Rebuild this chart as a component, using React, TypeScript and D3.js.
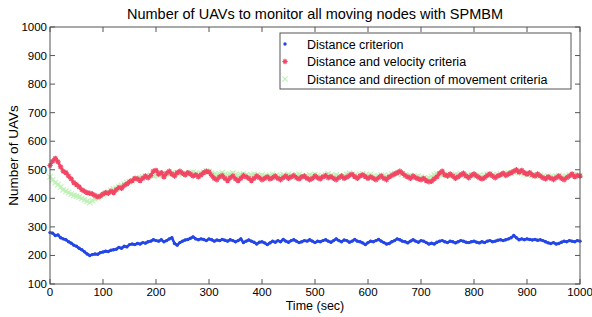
import React from "react";
import * as d3 from "d3";

// time axis: one sample every 5 s
const times = d3.range(0, 1001, 5);

const distanceOnly = [
  280, 278, 270, 272, 262, 258, 255, 248, 243, 236, 232, 225, 220, 213, 205, 200, 203, 205, 204, 210,
  212, 215, 214, 218, 220, 222, 228, 225, 232, 230, 238, 240, 238, 242, 240, 245, 243, 248, 250, 255,
  252, 250, 255, 248, 252, 258, 262, 242, 236, 245, 250, 254, 256, 260, 265, 258, 255, 258, 256, 252,
  258, 255, 250, 254, 252, 256, 253, 250, 255, 252, 248, 252, 258, 245, 250, 254, 250, 246, 240, 246,
  248, 244, 238, 244, 250, 246, 252, 248, 256, 250, 246, 252, 255, 250, 245, 248, 252, 250, 255, 250,
  245, 250, 248, 252, 255, 250, 246, 252, 258, 252, 248, 254, 252, 246, 250, 256, 250, 248, 244, 238,
  245, 250, 248, 252, 256, 250, 245, 240, 242, 248, 252, 258, 255, 250, 248, 244, 250, 255, 250, 246,
  252, 250, 245, 240, 243, 240, 246, 250, 252, 248, 245, 250, 248, 244, 248, 252, 250, 246, 245, 248,
  250, 246, 244, 248, 245, 250, 252, 248, 250, 253, 255, 252, 255, 258, 262, 270, 262, 255, 258, 255,
  258, 256, 254, 256, 253, 255, 252, 248, 244, 242, 245, 240, 242, 246, 250, 248, 252, 250, 248, 252,
  250,
];

const distanceVelocity = [
  515, 530, 540, 528, 510, 495, 490, 478, 468, 455, 448, 440, 430, 425, 420, 418, 415, 410, 405, 408,
  415, 420, 418, 425, 420, 430, 438, 435, 445, 450, 458, 462, 470, 468, 462, 470, 478, 472, 480, 495,
  498, 485, 490, 475, 488, 495, 485, 478, 490, 495, 488, 482, 490, 485, 478, 482, 475, 482, 490, 495,
  492, 480, 470, 465, 475, 480, 470, 462, 472, 478, 468, 462, 470, 480, 475, 470, 462, 470, 478, 472,
  465, 470, 475, 468, 472, 478, 470, 465, 472, 478, 470, 475, 480, 472, 468, 475, 478, 470, 465, 470,
  478, 472, 468, 475, 480, 472, 476, 470, 465, 472, 478, 470, 474, 480, 484, 476, 470, 478, 482, 476,
  470, 475, 470, 465, 472, 478, 470, 465, 475, 480, 485, 490, 495, 488, 480, 475, 470, 478, 472, 468,
  465, 470, 462, 458, 460, 468, 475, 488, 495, 482, 478, 485, 478, 470, 475, 482, 488, 478, 472, 480,
  485, 478, 472, 468, 472, 480, 485, 478, 472, 478, 482, 488, 480, 485, 490, 495, 500, 492, 498, 490,
  485, 490, 482, 478, 485, 478, 472, 468, 475, 470, 466, 472, 478, 470, 465, 472, 478, 485, 476, 480,
  478,
];

const distanceDirection = [
  475, 465, 455, 448, 440, 430, 425, 420, 415, 410, 408, 405, 400, 395, 390, 385, 392, 398, 402, 408,
  412, 418, 422, 428, 432, 436, 440, 445, 450, 455, 458, 462, 466, 470, 472, 475, 478, 476, 480, 478,
  482, 480, 484, 482, 486, 484, 488, 485, 490, 487, 484, 488, 486, 490, 492, 488, 485, 488, 492, 496,
  494, 488, 485, 482, 486, 490, 484, 480, 485, 488, 484, 480, 483, 486, 482, 478, 482, 484, 480, 478,
  482, 478, 476, 480, 484, 478, 475, 480, 482, 478, 484, 480, 476, 480, 484, 478, 475, 478, 482, 480,
  484, 480, 476, 478, 482, 486, 480, 478, 482, 478, 475, 480, 484, 488, 484, 480, 478, 484, 486, 482,
  480, 484, 478, 474, 478, 482, 480, 476, 480, 485, 488, 484, 490, 486, 482, 478, 480, 476, 474, 478,
  474, 470, 468, 472, 476, 482, 486, 484, 480, 484, 482, 478, 480, 484, 482, 486, 482, 478, 480, 484,
  482, 478, 480, 476, 480, 484, 486, 482, 478, 482, 486, 484, 486, 490, 488, 492, 494, 490, 488, 486,
  482, 486, 482, 478, 482, 480, 476, 474, 478, 476, 474, 478, 480, 476, 474, 478, 482, 484, 480, 482,
  480,
];

const xTicks = [0, 100, 200, 300, 400, 500, 600, 700, 800, 900, 1000];
const yTicks = [100, 200, 300, 400, 500, 600, 700, 800, 900, 1000];
const legendLabels = [
  "Distance criterion",
  "Distance and velocity criteria",
  "Distance and direction of movement criteria",
];

const W = 592;
const H = 317;
const margin = { left: 50, right: 12, top: 27, bottom: 33 };
const font = "Arial, 'Liberation Sans', sans-serif";
const blue = "#2446e6";
const red = "#f24664";
const green = "#c0f2b8";

function Marker({ kind, x, y, color }: { kind: string; x: number; y: number; color: string }) {
  if (kind === "dot") return <circle cx={x} cy={y} r={1.7} fill={color} />;
  const s = 2.7;
  if (kind === "star")
    return (
      <path
        d={`M${x - s},${y}H${x + s}M${x},${y - s}V${y + s}M${x - s * 0.7},${y - s * 0.7}L${x + s * 0.7},${y + s * 0.7}M${x - s * 0.7},${y + s * 0.7}L${x + s * 0.7},${y - s * 0.7}`}
        stroke={color}
        strokeWidth={1.2}
      />
    );
  return (
    <path
      d={`M${x - s},${y - s}L${x + s},${y + s}M${x - s},${y + s}L${x + s},${y - s}`}
      stroke={color}
      strokeWidth={1.2}
    />
  );
}

export default function App() {
  const x = d3.scaleLinear().domain([0, 1000]).range([margin.left, W - margin.right]);
  const y = d3.scaleLinear().domain([100, 1000]).range([H - margin.bottom, margin.top]);
  const line = d3
    .line<number>()
    .x((_, i) => x(times[i]))
    .y((d) => y(d));

  const series = [
    { data: distanceOnly, color: blue, kind: "dot", width: 2.6 },
    { data: distanceVelocity, color: red, kind: "star", width: 2.6 },
    { data: distanceDirection, color: green, kind: "cross", width: 2.8 },
  ];
  // red is drawn over the pale green band
  const drawOrder = [0, 2, 1];

  const [x0, x1] = x.range();
  const [y0, y1] = y.range();
  const axisColor = "#555";

  return (
    <svg
      width={W}
      height={H}
      style={{ position: "absolute", left: 0, top: 0, background: "#fff" }}
      fontFamily={font}
    >
      <rect x={0} y={0} width={W} height={H} fill="#fff" />
      <text x={(x0 + x1) / 2} y={19} textAnchor="middle" fontSize={14.5} fill="#000">
        Number of UAVs to monitor all moving nodes with SPMBM
      </text>

      {/* data */}
      {drawOrder.map((si) => {
        const s = series[si];
        return (
          <g key={si}>
            <path d={line(s.data) || undefined} fill="none" stroke={s.color} strokeWidth={s.width} />
            {s.data.map((v, i) => (
              <Marker key={i} kind={s.kind} x={x(times[i])} y={y(v)} color={s.color} />
            ))}
          </g>
        );
      })}

      {/* box and ticks */}
      <rect x={x0} y={y1} width={x1 - x0} height={y0 - y1} fill="none" stroke={axisColor} strokeWidth={1} />
      {xTicks.map((t) => (
        <g key={`x${t}`}>
          <line x1={x(t)} x2={x(t)} y1={y0} y2={y0 - 5} stroke={axisColor} />
          <line x1={x(t)} x2={x(t)} y1={y1} y2={y1 + 5} stroke={axisColor} />
          <text x={x(t)} y={y0 + 12} textAnchor="middle" fontSize={11.5} fill="#000">
            {t}
          </text>
        </g>
      ))}
      {yTicks.map((t) => (
        <g key={`y${t}`}>
          <line x1={x0} x2={x0 + 5} y1={y(t)} y2={y(t)} stroke={axisColor} />
          <line x1={x1} x2={x1 - 5} y1={y(t)} y2={y(t)} stroke={axisColor} />
          <text x={x0 - 3} y={y(t) + 4} textAnchor="end" fontSize={11.5} fill="#000">
            {t}
          </text>
        </g>
      ))}
      <text x={(x0 + x1) / 2} y={310} textAnchor="middle" fontSize={12.5} fill="#000">
        Time (sec)
      </text>
      <text
        transform={`translate(18,${(y0 + y1) / 2}) rotate(-90)`}
        textAnchor="middle"
        fontSize={13.5}
        fill="#000"
      >
        Number of UAVs
      </text>

      {/* legend */}
      <rect x={280} y={33} width={291} height={56} fill="#fff" stroke={axisColor} strokeWidth={1} />
      {legendLabels.map((lbl, i) => (
        <g key={lbl}>
          <Marker kind={series[i].kind} x={285} y={44 + i * 17.5} color={series[i].color} />
          <text x={307} y={48.5 + i * 17.5} fontSize={12.5} fill="#000">
            {lbl}
          </text>
        </g>
      ))}
    </svg>
  );
}
